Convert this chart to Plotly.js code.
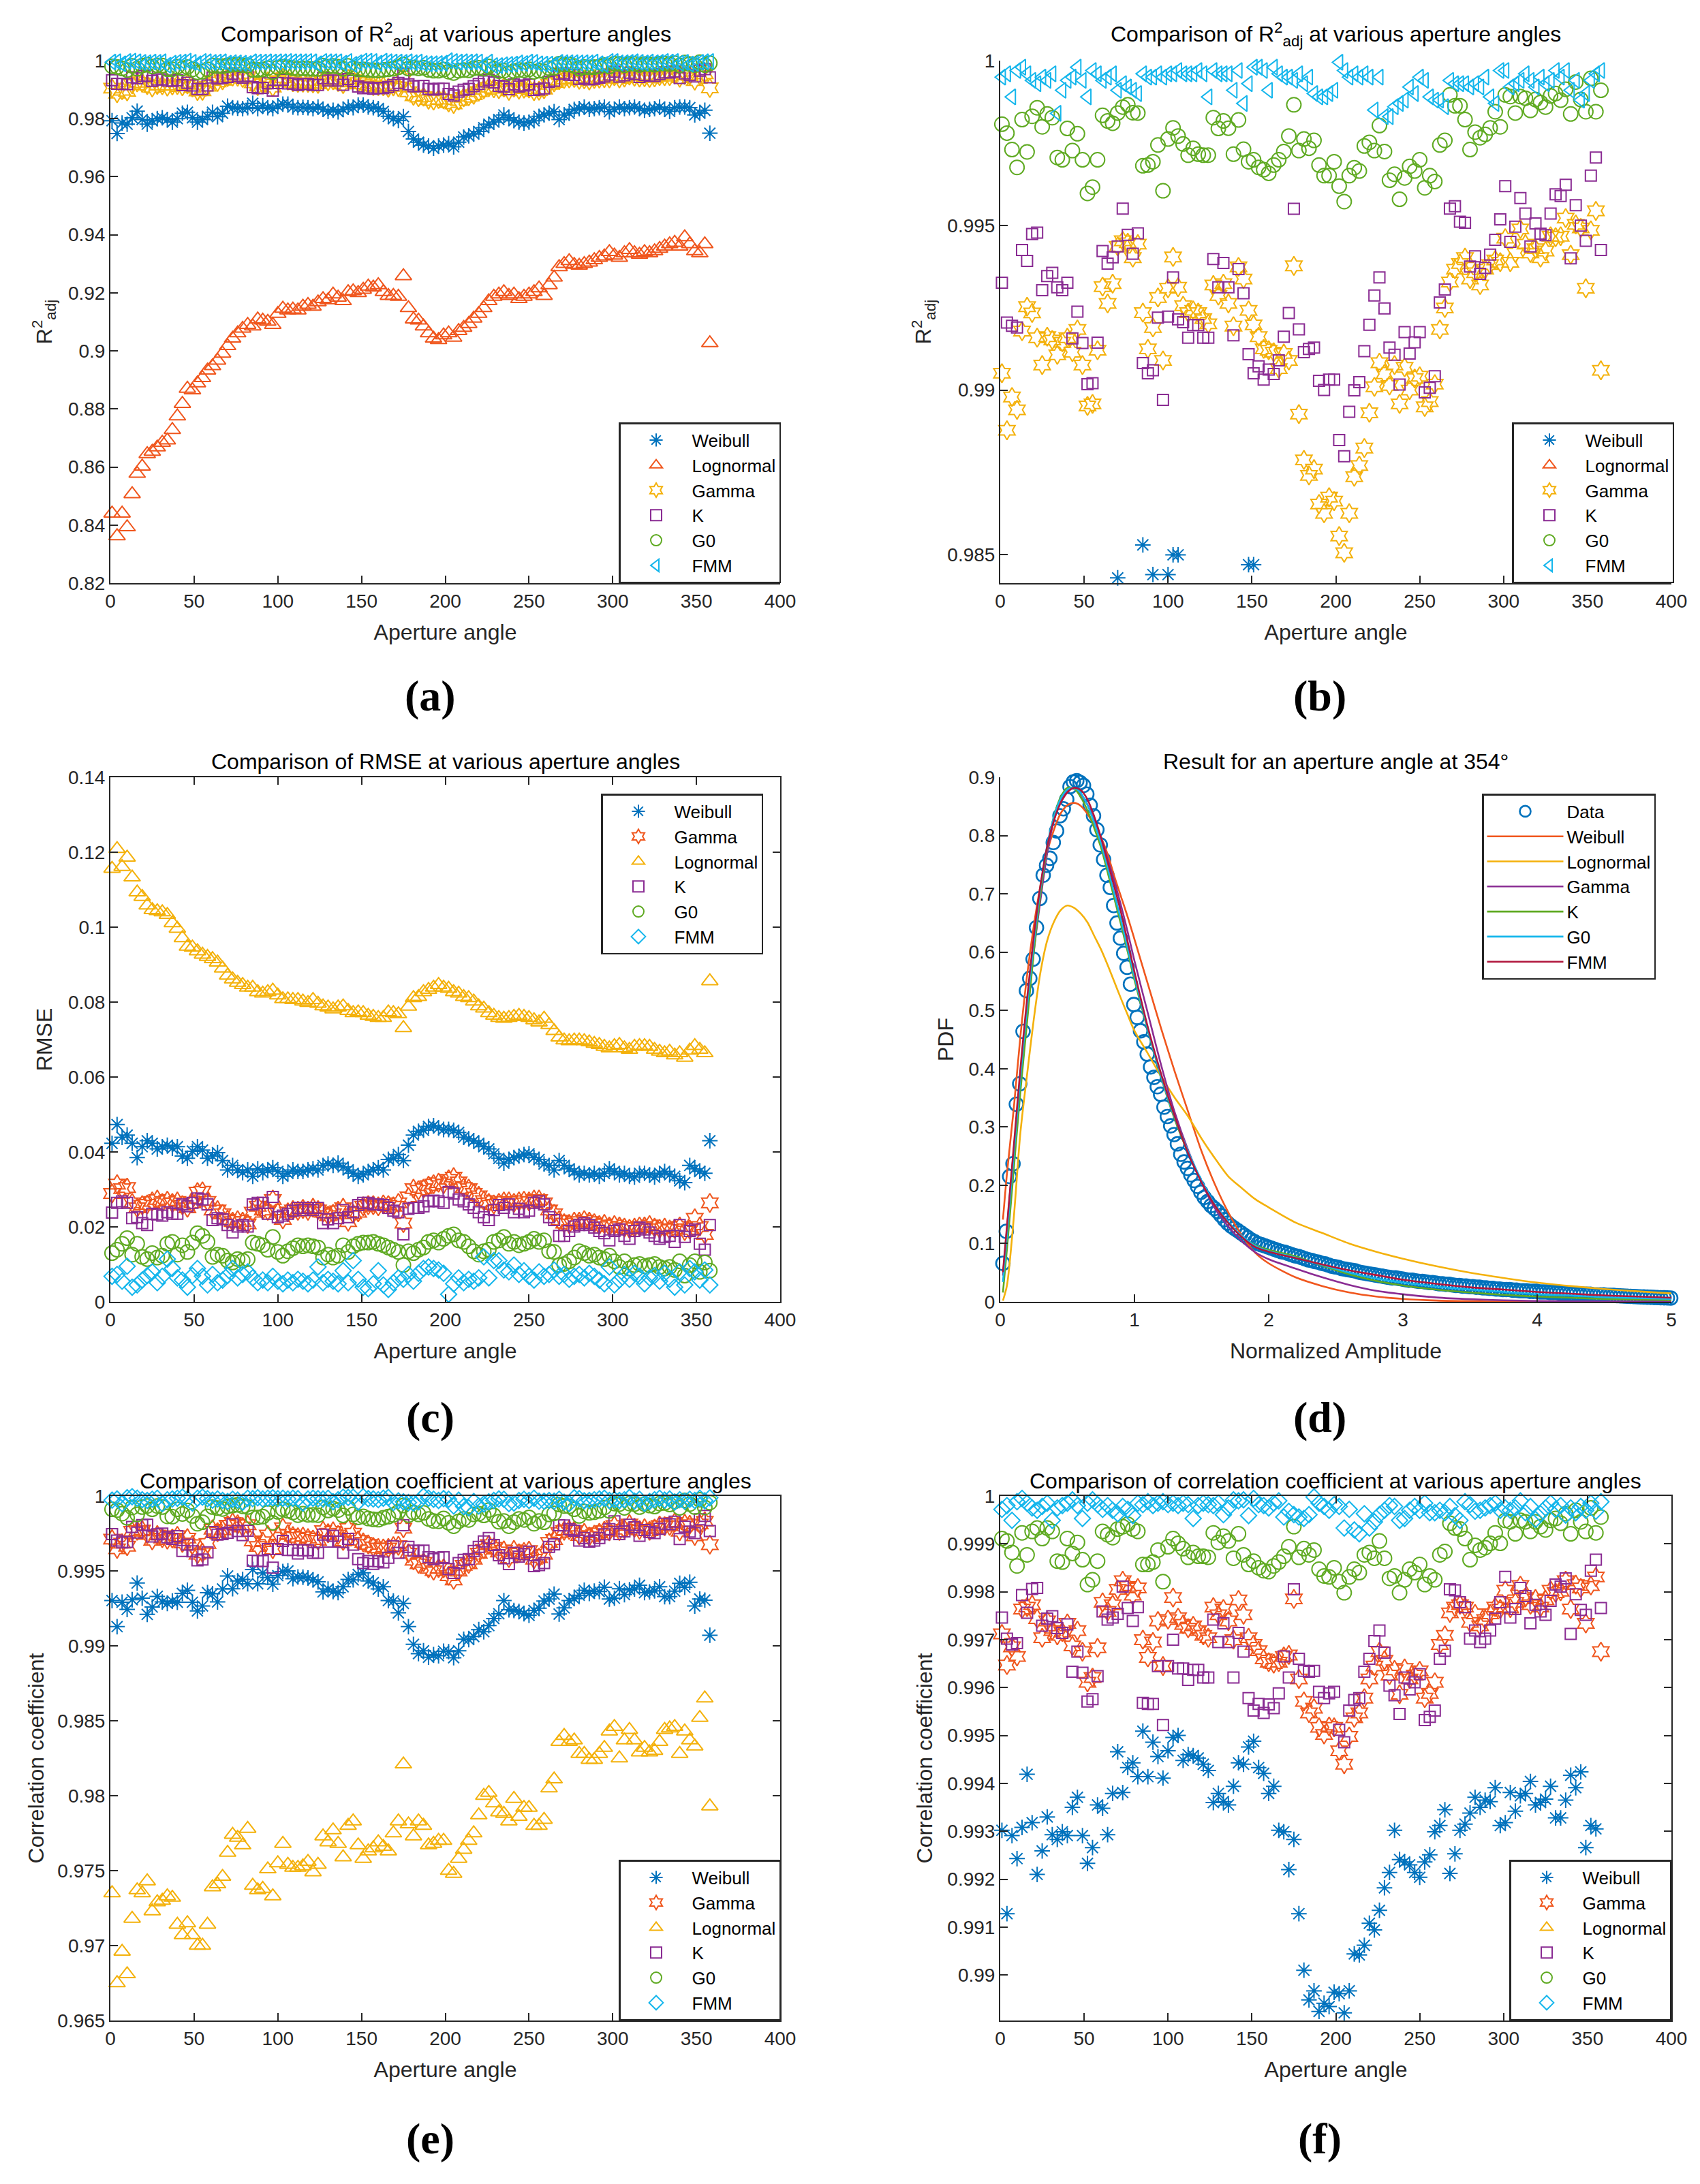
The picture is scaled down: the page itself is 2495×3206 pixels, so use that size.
<!DOCTYPE html>
<html><head><meta charset="utf-8">
<script src="https://cdn.plot.ly/plotly-3.0.1.min.js"></script>
<style>html,body{margin:0;padding:0;background:#fff;}#chart{width:2495px;height:3206px;}</style>
</head><body><div id="chart"></div>
<script>
// ---------- aperture angles (deg) ----------
const angles = [1,4,7,10,13,16,19,22,25,28,31,34,37,40,43,46,49,52,55,58,
61,64,67,70,73,76,79,82,85,88,91,94,97,100,103,106,109,112,115,118,
121,124,127,130,133,136,139,142,145,148,151,154,157,160,163,166,169,172,175,178,
181,184,187,190,193,196,199,202,205,208,211,214,217,220,223,226,229,232,235,238,
241,244,247,250,253,256,259,262,265,268,271,274,277,280,283,286,289,292,295,298,
301,304,307,310,313,316,319,322,325,328,331,334,337,340,343,346,349,352,355,358];

// ---------- adjusted R^2 ----------
const r2Weibull = [0.9793,0.9749,0.9785,0.9781,0.9803,0.9826,0.9797,0.9781,0.9793,0.9800,
0.9803,0.9797,0.9788,0.9800,0.9819,0.9822,0.9803,0.9788,0.9797,0.9808,
0.9822,0.9807,0.9819,0.9843,0.9838,0.9836,0.9835,0.9838,0.9853,0.9835,
0.9844,0.9838,0.9835,0.9844,0.9850,0.9850,0.9840,0.9838,0.9839,0.9838,
0.9835,0.9840,0.9832,0.9825,0.9829,0.9824,0.9832,0.9840,0.9838,0.9847,
0.9847,0.9840,0.9838,0.9835,0.9825,0.9808,0.9800,0.9794,0.9807,0.9756,
0.9730,0.9719,0.9709,0.9706,0.9698,0.9706,0.9709,0.9714,0.9703,0.9719,
0.9737,0.9741,0.9747,0.9756,0.9769,0.9781,0.9788,0.9797,0.9813,0.9803,
0.9793,0.9788,0.9785,0.9788,0.9793,0.9808,0.9813,0.9819,0.9824,0.9797,
0.9813,0.9819,0.9832,0.9835,0.9840,0.9832,0.9835,0.9838,0.9840,0.9824,
0.9832,0.9840,0.9835,0.9838,0.9840,0.9835,0.9829,0.9832,0.9835,0.9840,
0.9832,0.9825,0.9838,0.9840,0.9840,0.9838,0.9813,0.9819,0.9829,0.9750];
const r2Lognormal = [0.8440,0.8362,0.8440,0.8393,0.8507,0.8577,0.8602,0.8645,0.8653,0.8668,
0.8684,0.8692,0.8728,0.8775,0.8818,0.8870,0.8865,0.8889,0.8907,0.8933,
0.8948,0.8967,0.8991,0.9017,0.9043,0.9061,0.9077,0.9090,0.9085,0.9109,
0.9105,0.9101,0.9090,0.9128,0.9146,0.9140,0.9143,0.9140,0.9153,0.9159,
0.9153,0.9168,0.9179,0.9175,0.9195,0.9184,0.9172,0.9203,0.9206,0.9200,
0.9211,0.9222,0.9219,0.9227,0.9203,0.9190,0.9190,0.9187,0.9258,0.9148,
0.9109,0.9105,0.9085,0.9061,0.9043,0.9038,0.9054,0.9061,0.9046,0.9069,
0.9080,0.9093,0.9112,0.9128,0.9148,0.9172,0.9187,0.9195,0.9203,0.9190,
0.9195,0.9179,0.9187,0.9195,0.9203,0.9216,0.9190,0.9227,0.9253,0.9289,
0.9300,0.9310,0.9297,0.9294,0.9300,0.9305,0.9313,0.9321,0.9326,0.9341,
0.9329,0.9321,0.9337,0.9348,0.9337,0.9332,0.9341,0.9337,0.9344,0.9352,
0.9360,0.9368,0.9373,0.9360,0.9392,0.9368,0.9344,0.9337,0.9368,0.9027];
const r2Gamma = [0.99051,0.98878,0.98979,0.98940,0.99179,0.99253,0.99234,0.99159,0.99076,0.99162,
0.99152,0.99107,0.99145,0.99159,0.99115,0.99184,0.99076,0.98952,0.98958,0.99121,
0.99314,0.99263,0.99323,0.99436,0.99453,0.99447,0.99402,0.99443,0.99235,0.99125,
0.99190,0.99281,0.99090,0.99309,0.99404,0.99312,0.99256,0.99235,0.99242,0.99235,
0.99217,0.99201,0.99319,0.99287,0.99323,0.99263,0.99194,0.99374,0.99337,0.99242,
0.99198,0.99162,0.99125,0.99121,0.99115,0.99065,0.99111,0.99090,0.99377,0.98927,
0.98788,0.98741,0.98760,0.98654,0.98626,0.98675,0.98663,0.98557,0.98506,0.98626,
0.98737,0.98771,0.98824,0.98931,0.99010,0.99083,0.99049,0.99014,0.99076,0.98958,
0.99069,0.99000,0.99035,0.99042,0.98949,0.98965,0.99018,0.99184,0.99249,0.99328,
0.99367,0.99384,0.99402,0.99337,0.99356,0.99319,0.99367,0.99381,0.99395,0.99388,
0.99461,0.99388,0.99416,0.99489,0.99443,0.99416,0.99429,0.99402,0.99422,0.99467,
0.99464,0.99467,0.99522,0.99411,0.99503,0.99492,0.99309,0.99485,0.99544,0.99060];
const r2K = [0.99326,0.99205,0.99195,0.99190,0.99425,0.99392,0.99474,0.99478,0.99303,0.99346,
0.99356,0.99312,0.99303,0.99326,0.99157,0.99238,0.99143,0.99018,0.99021,0.99144,
0.99422,0.99384,0.99403,0.99436,0.99551,0.99471,0.99414,0.99476,0.99082,0.99051,
0.99060,0.99220,0.98970,0.99223,0.99342,0.99215,0.99206,0.99159,0.99197,0.99197,
0.99159,0.99159,0.99398,0.99312,0.99386,0.99312,0.99166,0.99367,0.99294,0.99109,
0.99051,0.99072,0.99032,0.99062,0.99049,0.99090,0.99162,0.99234,0.99550,0.99184,
0.99115,0.99125,0.99129,0.99028,0.99000,0.99032,0.99032,0.98848,0.98799,0.98934,
0.98999,0.99024,0.99118,0.99198,0.99287,0.99342,0.99248,0.99129,0.99107,0.99017,
0.99176,0.99111,0.99145,0.99176,0.98993,0.99007,0.99042,0.99266,0.99305,0.99551,
0.99558,0.99511,0.99508,0.99375,0.99406,0.99353,0.99371,0.99411,0.99456,0.99518,
0.99619,0.99450,0.99496,0.99583,0.99536,0.99436,0.99506,0.99475,0.99470,0.99536,
0.99594,0.99589,0.99623,0.99400,0.99561,0.99499,0.99453,0.99651,0.99706,0.99425];
const r2G0 = [0.99807,0.99780,0.99730,0.99676,0.99821,0.99723,0.99831,0.99857,0.99799,0.99838,
0.99827,0.99706,0.99699,0.99794,0.99727,0.99778,0.99699,0.99597,0.99616,0.99699,
0.99834,0.99817,0.99810,0.99841,0.99859,0.99866,0.99842,0.99841,0.99681,0.99683,
0.99693,0.99744,0.99605,0.99762,0.99796,0.99771,0.99747,0.99713,0.99734,0.99716,
0.99713,0.99713,0.99827,0.99794,0.99817,0.99795,0.99716,0.99820,0.99731,0.99693,
0.99699,0.99676,0.99669,0.99658,0.99683,0.99699,0.99724,0.99771,0.99866,0.99727,
0.99762,0.99734,0.99758,0.99683,0.99651,0.99651,0.99693,0.99619,0.99572,0.99651,
0.99675,0.99665,0.99741,0.99752,0.99727,0.99803,0.99724,0.99637,0.99655,0.99579,
0.99644,0.99679,0.99665,0.99699,0.99614,0.99651,0.99633,0.99744,0.99758,0.99896,
0.99863,0.99863,0.99821,0.99730,0.99783,0.99766,0.99776,0.99796,0.99845,0.99799,
0.99896,0.99891,0.99841,0.99891,0.99886,0.99849,0.99882,0.99873,0.99859,0.99893,
0.99900,0.99880,0.99913,0.99838,0.99935,0.99882,0.99845,0.99946,0.99845,0.99910];
const r2FMM = [0.9995,0.9996,0.9989,0.9997,0.9998,0.9996,0.9994,0.9993,0.9995,0.9994,
0.9996,0.9984,0.9991,0.9994,0.9995,0.9998,0.9994,0.9989,0.9997,0.9996,
0.9994,0.9995,0.9996,0.9991,0.9993,0.9992,0.9991,0.9990,0.9996,0.9995,
0.9995,0.9996,0.9995,0.9996,0.9996,0.9997,0.9996,0.9996,0.9996,0.9997,
0.9996,0.9989,0.9997,0.9996,0.9996,0.9996,0.9991,0.9997,0.9987,0.9993,
0.9998,0.9998,0.9997,0.9991,0.9998,0.9996,0.9995,0.9995,0.9994,0.9996,
0.9993,0.9995,0.9990,0.9989,0.9989,0.9990,0.9991,0.99995,0.9997,0.9995,
0.9996,0.9995,0.9996,0.9995,0.9985,0.9995,0.9983,0.9983,0.9986,0.9987,
0.9988,0.9992,0.9990,0.9995,0.9994,0.9989,0.9988,0.9988,0.9986,0.9994,
0.9993,0.9993,0.9993,0.9992,0.9993,0.9992,0.9995,0.9989,0.9987,0.9997,
0.9997,0.9992,0.9993,0.9994,0.9996,0.9994,0.9992,0.9995,0.9993,0.9994,
0.9997,0.9995,0.9997,0.9991,0.9994,0.9988,0.9990,0.9994,0.9996,0.9997];

// ---------- RMSE ----------
const rmseWeibull = [0.0423,0.0473,0.0439,0.0445,0.0423,0.0385,0.0414,0.0430,0.0423,0.0408,
0.0414,0.0418,0.0410,0.0414,0.0389,0.0383,0.0402,0.0414,0.0405,0.0383,
0.0389,0.0398,0.0377,0.0352,0.0364,0.0352,0.0345,0.0352,0.0335,0.0355,
0.0345,0.0352,0.0358,0.0348,0.0335,0.0343,0.0352,0.0348,0.0348,0.0352,
0.0355,0.0352,0.0364,0.0368,0.0364,0.0370,0.0360,0.0352,0.0343,0.0335,
0.0339,0.0348,0.0352,0.0358,0.0352,0.0380,0.0383,0.0393,0.0377,0.0418,
0.0445,0.0455,0.0458,0.0468,0.0470,0.0464,0.0460,0.0460,0.0458,0.0452,
0.0439,0.0435,0.0430,0.0423,0.0414,0.0408,0.0395,0.0383,0.0370,0.0380,
0.0385,0.0389,0.0393,0.0395,0.0385,0.0380,0.0368,0.0364,0.0352,0.0377,
0.0364,0.0355,0.0348,0.0339,0.0343,0.0339,0.0343,0.0335,0.0343,0.0355,
0.0348,0.0339,0.0343,0.0335,0.0333,0.0343,0.0343,0.0339,0.0333,0.0343,
0.0348,0.0339,0.0335,0.0323,0.0318,0.0364,0.0355,0.0348,0.0343,0.0430];
const rmseGamma = [0.0289,0.0314,0.0302,0.0305,0.0264,0.0251,0.0258,0.0260,0.0268,0.0273,
0.0264,0.0270,0.0264,0.0268,0.0258,0.0251,0.0264,0.0293,0.0295,0.0268,
0.0245,0.0245,0.0235,0.0220,0.0214,0.0218,0.0214,0.0208,0.0239,0.0255,
0.0245,0.0243,0.0273,0.0239,0.0220,0.0239,0.0245,0.0243,0.0248,0.0243,
0.0251,0.0245,0.0239,0.0230,0.0235,0.0243,0.0251,0.0214,0.0235,0.0239,
0.0255,0.0258,0.0258,0.0255,0.0260,0.0258,0.0255,0.0264,0.0210,0.0280,
0.0302,0.0298,0.0302,0.0310,0.0314,0.0318,0.0314,0.0327,0.0333,0.0320,
0.0305,0.0302,0.0289,0.0283,0.0270,0.0264,0.0260,0.0264,0.0268,0.0268,
0.0264,0.0268,0.0270,0.0268,0.0273,0.0273,0.0264,0.0245,0.0235,0.0218,
0.0210,0.0208,0.0214,0.0214,0.0218,0.0214,0.0210,0.0205,0.0208,0.0201,
0.0205,0.0201,0.0198,0.0195,0.0198,0.0201,0.0201,0.0205,0.0198,0.0195,
0.0198,0.0193,0.0195,0.0201,0.0189,0.0193,0.0223,0.0201,0.0180,0.0264];
const rmseLognormal = [0.1156,0.1209,0.1161,0.1186,0.1133,0.1093,0.1081,0.1058,0.1046,0.1043,
0.1040,0.1033,0.1011,0.0996,0.0971,0.0948,0.0946,0.0936,0.0927,0.0921,
0.0915,0.0906,0.0890,0.0871,0.0861,0.0852,0.0846,0.0839,0.0839,0.0827,
0.0823,0.0827,0.0831,0.0818,0.0808,0.0808,0.0806,0.0806,0.0802,0.0798,
0.0806,0.0796,0.0789,0.0786,0.0781,0.0786,0.0789,0.0777,0.0771,0.0773,
0.0771,0.0764,0.0761,0.0758,0.0758,0.0773,0.0771,0.0768,0.0731,0.0788,
0.0811,0.0814,0.0827,0.0833,0.0839,0.0846,0.0839,0.0836,0.0827,0.0823,
0.0814,0.0811,0.0802,0.0789,0.0783,0.0771,0.0764,0.0758,0.0756,0.0758,
0.0761,0.0764,0.0761,0.0758,0.0752,0.0746,0.0756,0.0739,0.0723,0.0706,
0.0698,0.0696,0.0698,0.0698,0.0696,0.0693,0.0689,0.0686,0.0681,0.0677,
0.0683,0.0686,0.0677,0.0673,0.0681,0.0683,0.0683,0.0681,0.0673,0.0668,
0.0664,0.0668,0.0658,0.0664,0.0652,0.0671,0.0683,0.0673,0.0664,0.0856];
const rmseK = [0.0238,0.0264,0.0268,0.0264,0.0223,0.0226,0.0210,0.0205,0.0235,0.0233,
0.0230,0.0239,0.0235,0.0235,0.0260,0.0255,0.0264,0.0276,0.0273,0.0260,
0.0218,0.0223,0.0220,0.0205,0.0185,0.0201,0.0205,0.0201,0.0260,0.0264,
0.0264,0.0235,0.0280,0.0226,0.0230,0.0235,0.0243,0.0251,0.0245,0.0251,
0.0245,0.0251,0.0210,0.0220,0.0210,0.0223,0.0245,0.0226,0.0239,0.0258,
0.0264,0.0264,0.0260,0.0260,0.0258,0.0251,0.0243,0.0239,0.0180,0.0248,
0.0251,0.0251,0.0255,0.0268,0.0270,0.0268,0.0264,0.0293,0.0289,0.0273,
0.0268,0.0260,0.0251,0.0239,0.0226,0.0218,0.0245,0.0258,0.0251,0.0260,
0.0239,0.0248,0.0239,0.0243,0.0264,0.0268,0.0260,0.0226,0.0218,0.0176,
0.0176,0.0189,0.0201,0.0205,0.0210,0.0205,0.0198,0.0189,0.0183,0.0164,
0.0189,0.0193,0.0176,0.0168,0.0189,0.0198,0.0193,0.0185,0.0176,0.0168,
0.0173,0.0176,0.0160,0.0205,0.0173,0.0189,0.0193,0.0155,0.0139,0.0205];
const rmseG0 = [0.0130,0.0139,0.0155,0.0170,0.0126,0.0155,0.0120,0.0114,0.0130,0.0118,
0.0123,0.0155,0.0160,0.0126,0.0151,0.0133,0.0158,0.0183,0.0176,0.0160,
0.0120,0.0126,0.0123,0.0110,0.0105,0.0114,0.0110,0.0114,0.0158,0.0155,
0.0151,0.0139,0.0173,0.0133,0.0123,0.0135,0.0143,0.0151,0.0148,0.0151,
0.0148,0.0145,0.0118,0.0126,0.0118,0.0123,0.0151,0.0133,0.0148,0.0155,
0.0158,0.0158,0.0160,0.0155,0.0151,0.0145,0.0139,0.0133,0.0098,0.0135,
0.0130,0.0139,0.0145,0.0160,0.0164,0.0158,0.0168,0.0176,0.0180,0.0164,
0.0160,0.0148,0.0135,0.0126,0.0135,0.0139,0.0160,0.0164,0.0173,0.0155,
0.0160,0.0151,0.0155,0.0160,0.0168,0.0160,0.0164,0.0135,0.0133,0.0098,
0.0101,0.0108,0.0118,0.0135,0.0130,0.0123,0.0126,0.0118,0.0114,0.0123,
0.0108,0.0093,0.0108,0.0089,0.0098,0.0101,0.0095,0.0098,0.0101,0.0093,
0.0089,0.0093,0.0085,0.0108,0.0070,0.0098,0.0108,0.0080,0.0105,0.0083];
const rmseFMM = [0.0068,0.0073,0.0055,0.0095,0.0039,0.0045,0.0058,0.0070,0.0080,0.0051,
0.0068,0.0114,0.0089,0.0064,0.0058,0.0039,0.0070,0.0089,0.0068,0.0045,
0.0073,0.0051,0.0058,0.0070,0.0089,0.0064,0.0073,0.0080,0.0064,0.0051,
0.0058,0.0051,0.0068,0.0055,0.0048,0.0058,0.0051,0.0060,0.0055,0.0048,
0.0058,0.0093,0.0051,0.0060,0.0055,0.0048,0.0083,0.0051,0.0110,0.0060,
0.0039,0.0035,0.0048,0.0083,0.0045,0.0033,0.0051,0.0064,0.0060,0.0073,
0.0055,0.0076,0.0089,0.0093,0.0089,0.0085,0.0076,0.0020,0.0048,0.0064,
0.0051,0.0060,0.0055,0.0064,0.0120,0.0064,0.0110,0.0110,0.0085,0.0080,
0.0098,0.0073,0.0083,0.0068,0.0058,0.0080,0.0068,0.0073,0.0085,0.0068,
0.0073,0.0060,0.0068,0.0073,0.0064,0.0076,0.0068,0.0058,0.0048,0.0093,
0.0045,0.0058,0.0073,0.0060,0.0076,0.0068,0.0048,0.0064,0.0070,0.0055,
0.0076,0.0060,0.0039,0.0080,0.0045,0.0089,0.0080,0.0058,0.0085,0.0045];

// ---------- correlation coefficient ----------
const corrWeibull = [0.99302,0.99128,0.99291,0.99243,0.99308,0.99419,0.99318,0.99210,0.99259,0.99330,
0.99293,0.99283,0.99299,0.99291,0.99350,0.99371,0.99291,0.99233,0.99266,0.99355,
0.99348,0.99293,0.99379,0.99466,0.99381,0.99433,0.99443,0.99414,0.99509,0.99414,
0.99486,0.99456,0.99411,0.99468,0.99496,0.99500,0.99448,0.99460,0.99458,0.99453,
0.99440,0.99427,0.99360,0.99379,0.99362,0.99355,0.99394,0.99443,0.99440,0.99476,
0.99488,0.99433,0.99421,0.99379,0.99394,0.99302,0.99299,0.99220,0.99283,0.99128,
0.99010,0.98948,0.98967,0.98924,0.98941,0.98934,0.98964,0.98961,0.98921,0.98967,
0.99044,0.99042,0.99062,0.99108,0.99094,0.99135,0.99182,0.99214,0.99302,0.99241,
0.99236,0.99230,0.99214,0.99204,0.99236,0.99251,0.99299,0.99312,0.99345,0.99212,
0.99253,0.99302,0.99315,0.99338,0.99371,0.99350,0.99365,0.99362,0.99391,0.99312,
0.99318,0.99381,0.99342,0.99374,0.99379,0.99404,0.99355,0.99360,0.99367,0.99394,
0.99328,0.99328,0.99365,0.99417,0.99391,0.99424,0.99266,0.99312,0.99305,0.99071];
const corrGamma = [0.99712,0.99647,0.99685,0.99665,0.99764,0.99768,0.99773,0.99744,0.99704,0.99739,
0.99719,0.99709,0.99716,0.99734,0.99687,0.99719,0.99675,0.99611,0.99621,0.99683,
0.99778,0.99759,0.99773,0.99805,0.99823,0.99811,0.99793,0.99808,0.99700,0.99663,
0.99695,0.99739,0.99645,0.99742,0.99788,0.99746,0.99732,0.99724,0.99729,0.99719,
0.99709,0.99704,0.99768,0.99752,0.99764,0.99739,0.99700,0.99783,0.99752,0.99704,
0.99690,0.99677,0.99660,0.99653,0.99650,0.99653,0.99665,0.99668,0.99785,0.99618,
0.99571,0.99547,0.99557,0.99517,0.99502,0.99519,0.99517,0.99468,0.99440,0.99498,
0.99537,0.99547,0.99578,0.99618,0.99645,0.99675,0.99657,0.99626,0.99637,0.99586,
0.99640,0.99618,0.99626,0.99635,0.99578,0.99588,0.99611,0.99690,0.99709,0.99756,
0.99768,0.99773,0.99768,0.99736,0.99754,0.99729,0.99742,0.99754,0.99768,0.99764,
0.99803,0.99766,0.99778,0.99813,0.99788,0.99773,0.99785,0.99768,0.99783,0.99803,
0.99798,0.99801,0.99823,0.99764,0.99815,0.99808,0.99734,0.99813,0.99831,0.99675];
const corrLognormal = [0.9735,0.9675,0.9696,0.9681,0.9718,0.9737,0.9735,0.9743,0.9723,0.9729,
0.9730,0.9733,0.9732,0.9714,0.9707,0.9715,0.9707,0.9700,0.9700,0.9714,
0.9739,0.9741,0.9746,0.9762,0.9774,0.9772,0.9767,0.9778,0.9740,0.9737,
0.9738,0.9751,0.9733,0.9755,0.9768,0.9754,0.9752,0.9752,0.9753,0.9756,
0.9749,0.9754,0.9773,0.9769,0.9777,0.9768,0.9759,0.9780,0.9783,0.9767,
0.9758,0.9763,0.9765,0.9769,0.9766,0.9763,0.9775,0.9783,0.9821,0.9781,
0.9773,0.9783,0.9780,0.9767,0.9768,0.9770,0.9770,0.9750,0.9748,0.9758,
0.9764,0.9770,0.9775,0.9787,0.9800,0.9802,0.9795,0.9789,0.9788,0.9783,
0.9798,0.9786,0.9792,0.9792,0.9780,0.9780,0.9784,0.9805,0.9811,0.9836,
0.9840,0.9836,0.9837,0.9828,0.9828,0.9824,0.9824,0.9828,0.9832,0.9843,
0.9846,0.9825,0.9837,0.9844,0.9837,0.9829,0.9832,0.9829,0.9830,0.9836,
0.9844,0.9845,0.9846,0.9828,0.9843,0.9837,0.9833,0.9852,0.9865,0.9793];
const corrK = [0.99746,0.99702,0.99690,0.99693,0.99793,0.99756,0.99806,0.99808,0.99729,0.99744,
0.99749,0.99724,0.99714,0.99732,0.99633,0.99675,0.99631,0.99571,0.99576,0.99624,
0.99759,0.99742,0.99746,0.99754,0.99811,0.99766,0.99739,0.99768,0.99568,0.99566,
0.99566,0.99645,0.99522,0.99645,0.99700,0.99640,0.99640,0.99616,0.99637,0.99637,
0.99621,0.99621,0.99742,0.99695,0.99734,0.99695,0.99621,0.99714,0.99675,0.99578,
0.99552,0.99566,0.99547,0.99565,0.99557,0.99588,0.99665,0.99621,0.99805,0.99660,
0.99635,0.99633,0.99635,0.99591,0.99578,0.99588,0.99591,0.99512,0.99486,0.99552,
0.99574,0.99578,0.99633,0.99660,0.99697,0.99719,0.99673,0.99604,0.99584,0.99545,
0.99621,0.99596,0.99611,0.99628,0.99532,0.99539,0.99552,0.99660,0.99677,0.99805,
0.99803,0.99778,0.99768,0.99702,0.99719,0.99695,0.99702,0.99719,0.99744,0.99778,
0.99831,0.99746,0.99764,0.99808,0.99791,0.99734,0.99773,0.99759,0.99752,0.99781,
0.99815,0.99811,0.99828,0.99712,0.99795,0.99762,0.99752,0.99844,0.99867,0.99766];
const corrG0 = [0.99911,0.99906,0.99882,0.99854,0.99923,0.99877,0.99926,0.99933,0.99911,0.99933,
0.99926,0.99864,0.99862,0.99911,0.99880,0.99903,0.99867,0.99815,0.99825,0.99864,
0.99926,0.99919,0.99913,0.99931,0.99936,0.99941,0.99931,0.99926,0.99857,0.99857,
0.99862,0.99887,0.99821,0.99894,0.99911,0.99901,0.99890,0.99872,0.99882,0.99874,
0.99874,0.99872,0.99923,0.99903,0.99916,0.99906,0.99870,0.99921,0.99877,0.99857,
0.99864,0.99850,0.99844,0.99842,0.99854,0.99862,0.99874,0.99894,0.99936,0.99872,
0.99890,0.99877,0.99887,0.99847,0.99833,0.99831,0.99850,0.99821,0.99798,0.99831,
0.99847,0.99840,0.99877,0.99882,0.99870,0.99906,0.99870,0.99828,0.99833,0.99798,
0.99825,0.99847,0.99840,0.99857,0.99815,0.99833,0.99825,0.99877,0.99884,0.99943,
0.99933,0.99931,0.99911,0.99867,0.99897,0.99887,0.99892,0.99901,0.99923,0.99901,
0.99949,0.99946,0.99921,0.99949,0.99946,0.99926,0.99946,0.99936,0.99929,0.99949,
0.99953,0.99943,0.99963,0.99921,0.99970,0.99946,0.99926,0.99975,0.99923,0.99956];
const corrFMM = [0.99972,0.99980,0.99949,0.99988,0.99995,0.99985,0.99975,0.99970,0.99978,0.99985,
0.99949,0.99975,0.99980,0.99985,0.99992,0.99980,0.99953,0.99985,0.99992,0.99982,
0.99972,0.99980,0.99970,0.99963,0.99978,0.99972,0.99959,0.99985,0.99982,0.99988,
0.99980,0.99985,0.99988,0.99982,0.99985,0.99980,0.99985,0.99982,0.99953,0.99980,
0.99985,0.99982,0.99980,0.99985,0.99961,0.99975,0.99992,0.99990,0.99992,0.99959,
0.99995,0.99982,0.99980,0.99975,0.99985,0.99990,0.99956,0.99968,0.99961,0.99956,
0.99953,0.99961,0.99998,0.99985,0.99978,0.99970,0.99982,0.99978,0.99933,0.99972,
0.99929,0.99921,0.99963,0.99933,0.99946,0.99961,0.99970,0.99980,0.99978,0.99949,
0.99953,0.99970,0.99978,0.99970,0.99985,0.99965,0.99965,0.99970,0.99965,0.99978,
0.99959,0.99949,0.99988,0.99982,0.99968,0.99970,0.99975,0.99980,0.99985,0.99970,
0.99975,0.99970,0.99975,0.99990,0.99965,0.99978,0.99951,0.99963,0.99975,0.99985,
0.99972,0.99980,0.99960,0.99975,0.99965,0.99978,0.99970,0.99985,0.99968,0.99988];

// ---------- PDF at 354 deg ----------
const ampData = [0.02,0.045,0.07,0.095,0.12,0.145,0.17,0.195,0.22,0.245,
0.27,0.295,0.32,0.345,0.37,0.395,0.42,0.445,0.47,0.495,
0.52,0.545,0.57,0.595,0.62,0.645,0.67,0.695,0.72,0.745,
0.77,0.795,0.82,0.845,0.87,0.895,0.92,0.945,0.97,0.995,
1.02,1.045,1.07,1.095,1.12,1.145,1.17,1.195,1.22,1.245,
1.27,1.295,1.32,1.345,1.37,1.395,1.42,1.445,1.47,1.495,
1.52,1.545,1.57,1.595,1.62,1.645,1.67,1.695,1.72,1.745,
1.77,1.795,1.82,1.845,1.87,1.895,1.92,1.945,1.97,1.995,
2.02,2.045,2.07,2.095,2.12,2.145,2.17,2.195,2.22,2.245,
2.27,2.295,2.32,2.345,2.37,2.395,2.42,2.445,2.47,2.495,
2.52,2.545,2.57,2.595,2.62,2.645,2.67,2.695,2.72,2.745,
2.77,2.795,2.82,2.845,2.87,2.895,2.92,2.945,2.97,2.995,
3.02,3.045,3.07,3.095,3.12,3.145,3.17,3.195,3.22,3.245,
3.27,3.295,3.32,3.345,3.37,3.395,3.42,3.445,3.47,3.495,
3.52,3.545,3.57,3.595,3.62,3.645,3.67,3.695,3.72,3.745,
3.77,3.795,3.82,3.845,3.87,3.895,3.92,3.945,3.97,3.995,
4.02,4.045,4.07,4.095,4.12,4.145,4.17,4.195,4.22,4.245,
4.27,4.295,4.32,4.345,4.37,4.395,4.42,4.445,4.47,4.495,
4.52,4.545,4.57,4.595,4.62,4.645,4.67,4.695,4.72,4.745,
4.77,4.795,4.82,4.845,4.87,4.895,4.92,4.945,4.97,4.995];
const pdfData = [0.066,0.121,0.215,0.237,0.339,0.374,0.464,0.534,0.555,0.588,
0.642,0.692,0.732,0.749,0.761,0.788,0.808,0.834,0.846,0.862,
0.884,0.892,0.894,0.891,0.886,0.871,0.852,0.834,0.81,0.784,
0.759,0.732,0.711,0.68,0.65,0.624,0.598,0.574,0.545,0.51,
0.488,0.465,0.446,0.425,0.403,0.385,0.369,0.356,0.334,0.318,
0.302,0.287,0.271,0.253,0.24,0.229,0.218,0.208,0.198,0.188,
0.179,0.172,0.165,0.16,0.155,0.148,0.141,0.135,0.13,0.126,
0.122,0.118,0.114,0.11,0.106,0.103,0.1,0.098,0.096,0.094,
0.092,0.09,0.088,0.086,0.085,0.083,0.081,0.079,0.078,0.076,
0.074,0.072,0.071,0.069,0.068,0.066,0.065,0.063,0.061,0.06,
0.059,0.057,0.056,0.055,0.054,0.053,0.051,0.05,0.049,0.048,
0.047,0.046,0.045,0.044,0.043,0.042,0.041,0.041,0.04,0.039,
0.038,0.037,0.037,0.036,0.035,0.035,0.034,0.033,0.033,0.032,
0.031,0.031,0.03,0.03,0.029,0.028,0.028,0.027,0.027,0.026,
0.026,0.025,0.025,0.024,0.024,0.023,0.023,0.022,0.022,0.021,
0.021,0.021,0.02,0.02,0.019,0.019,0.019,0.018,0.018,0.018,
0.017,0.017,0.017,0.016,0.016,0.016,0.015,0.015,0.015,0.014,
0.014,0.014,0.013,0.013,0.013,0.013,0.012,0.012,0.012,0.012,
0.011,0.011,0.011,0.0105,0.0102,0.0099,0.0096,0.0093,0.009,0.0088,
0.0085,0.0083,0.008,0.0078,0.0075,0.0073,0.0071,0.0069,0.0067,0.0065];
const ampFit = [0.02,0.05,0.1,0.15,0.2,0.25,0.3,0.35,0.4,0.45,0.5,0.55,0.6,0.65,0.7,0.75,0.8,0.85,0.9,0.95,
1.0,1.1,1.2,1.3,1.4,1.5,1.6,1.7,1.8,1.9,2.0,2.2,2.4,2.6,2.8,3.0,3.25,3.5,3.75,4.0,4.25,4.5,4.75,5.0];
const fitWeibull = [0.141,0.22,0.33,0.455,0.56,0.645,0.715,0.772,0.81,0.838,0.852,0.856,0.851,0.837,0.818,0.797,0.768,0.73,0.695,0.66,
0.622,0.545,0.468,0.395,0.326,0.258,0.201,0.153,0.114,0.084,0.066,0.042,0.027,0.016,0.009,0.005,0.0022,0.001,0.0004,0.0002,0.0001,0.00005,0.00002,0.00001];
const fitLognormal = [0.002,0.028,0.142,0.29,0.39,0.485,0.566,0.62,0.652,0.672,0.68,0.676,0.666,0.651,0.628,0.605,0.578,0.549,0.52,0.492,
0.465,0.426,0.386,0.35,0.318,0.28,0.246,0.215,0.195,0.176,0.162,0.136,0.118,0.1,0.086,0.074,0.061,0.05,0.041,0.033,0.027,0.022,0.018,0.0145];
const fitGamma = [0.045,0.125,0.26,0.375,0.49,0.6,0.69,0.77,0.826,0.86,0.877,0.881,0.871,0.853,0.826,0.797,0.76,0.722,0.68,0.634,
0.585,0.495,0.405,0.325,0.26,0.205,0.16,0.129,0.104,0.085,0.073,0.057,0.042,0.029,0.019,0.013,0.0075,0.0045,0.0026,0.0015,0.0009,0.0005,0.0003,0.0002];
const fitK = [0.016,0.09,0.225,0.36,0.48,0.6,0.7,0.78,0.833,0.866,0.882,0.881,0.866,0.843,0.813,0.78,0.737,0.692,0.647,0.6,
0.552,0.466,0.384,0.313,0.256,0.206,0.165,0.135,0.112,0.097,0.089,0.078,0.062,0.047,0.036,0.028,0.021,0.016,0.012,0.009,0.007,0.005,0.004,0.003];
const fitG0 = [0.034,0.115,0.25,0.385,0.505,0.615,0.71,0.783,0.832,0.863,0.879,0.882,0.873,0.852,0.822,0.787,0.745,0.7,0.655,0.606,
0.558,0.468,0.386,0.316,0.258,0.208,0.167,0.137,0.113,0.096,0.087,0.076,0.063,0.05,0.04,0.033,0.026,0.021,0.017,0.013,0.011,0.008,0.0065,0.005];
const fitFMM = [0.051,0.13,0.265,0.4,0.52,0.627,0.715,0.782,0.826,0.856,0.874,0.882,0.878,0.862,0.833,0.797,0.755,0.712,0.668,0.617,
0.566,0.471,0.39,0.318,0.255,0.205,0.165,0.135,0.111,0.094,0.086,0.075,0.064,0.054,0.046,0.038,0.031,0.025,0.021,0.017,0.014,0.011,0.009,0.007];

// ---------- tick labels ----------
const angleTicks = [0,50,100,150,200,250,300,350,400];
const angleTickText = ['0','50','100','150','200','250','300','350','400'];
const r2aTicks = [0.82,0.84,0.86,0.88,0.9,0.92,0.94,0.96,0.98,1];
const r2aTickText = ['0.82','0.84','0.86','0.88','0.9','0.92','0.94','0.96','0.98','1'];
const r2bTicks = [0.985,0.99,0.995,1];
const r2bTickText = ['0.985','0.99','0.995','1'];
const rmseTicks = [0,0.02,0.04,0.06,0.08,0.1,0.12,0.14];
const rmseTickText = ['0','0.02','0.04','0.06','0.08','0.1','0.12','0.14'];
const ampTicks = [0,1,2,3,4,5];
const ampTickText = ['0','1','2','3','4','5'];
const pdfTicks = [0,0.1,0.2,0.3,0.4,0.5,0.6,0.7,0.8,0.9];
const pdfTickText = ['0','0.1','0.2','0.3','0.4','0.5','0.6','0.7','0.8','0.9'];
const corrETicks = [0.965,0.97,0.975,0.98,0.985,0.99,0.995,1];
const corrETickText = ['0.965','0.97','0.975','0.98','0.985','0.99','0.995','1'];
const corrFTicks = [0.99,0.991,0.992,0.993,0.994,0.995,0.996,0.997,0.998,0.999,1];
const corrFTickText = ['0.99','0.991','0.992','0.993','0.994','0.995','0.996','0.997','0.998','0.999','1'];

// ---------- styling ----------
const FONT = "'Liberation Sans', Arial, Helvetica, sans-serif";
const AX = '#262626';
const COL = {blue:'#0072BD', orange:'#F0561D', yellow:'#F4B10B', purple:'#8A2C93',
             green:'#5FAA22', cyan:'#14B6EC', darkred:'#B0163C'};
const SZ = {'asterisk-open':19,'triangle-up-open':21,'hexagram-open':21,'square-open':16,
            'circle-open':21,'triangle-left-open':20,'diamond-open':18};

function sid(n){ return n===1 ? '' : String(n); }
function pts(x, y, name, symbol, color, n){
  return {type:'scatter', mode:'markers', x:x, y:y, name:name,
    xaxis:'x'+sid(n), yaxis:'y'+sid(n), legend:'legend'+sid(n), cliponaxis:false,
    marker:{symbol:symbol, size:SZ[symbol], color:color, line:{color:color, width:2}}};
}
function curve(x, y, name, color, n){
  return {type:'scatter', mode:'lines', x:x, y:y, name:name,
    xaxis:'x'+sid(n), yaxis:'y'+sid(n), legend:'legend'+sid(n),
    line:{color:color, width:2.6, shape:'spline', smoothing:0.8}};
}

const traces = [];
// (a) and (b)
[1,2].forEach(n => {
  traces.push(pts(angles, r2Weibull, 'Weibull', 'asterisk-open', COL.blue, n));
  traces.push(pts(angles, r2Lognormal, 'Lognormal', 'triangle-up-open', COL.orange, n));
  traces.push(pts(angles, r2Gamma, 'Gamma', 'hexagram-open', COL.yellow, n));
  traces.push(pts(angles, r2K, 'K', 'square-open', COL.purple, n));
  traces.push(pts(angles, r2G0, 'G0', 'circle-open', COL.green, n));
  traces.push(pts(angles, r2FMM, 'FMM', 'triangle-left-open', COL.cyan, n));
});
// (c)
traces.push(pts(angles, rmseWeibull, 'Weibull', 'asterisk-open', COL.blue, 3));
traces.push(pts(angles, rmseGamma, 'Gamma', 'hexagram-open', COL.orange, 3));
traces.push(pts(angles, rmseLognormal, 'Lognormal', 'triangle-up-open', COL.yellow, 3));
traces.push(pts(angles, rmseK, 'K', 'square-open', COL.purple, 3));
traces.push(pts(angles, rmseG0, 'G0', 'circle-open', COL.green, 3));
traces.push(pts(angles, rmseFMM, 'FMM', 'diamond-open', COL.cyan, 3));
// (d)
const dataTrace = pts(ampData, pdfData, 'Data', 'circle-open', COL.blue, 4);
dataTrace.marker.size = 20; dataTrace.marker.line.width = 2.6;
traces.push(dataTrace);
traces.push(curve(ampFit, fitWeibull, 'Weibull', COL.orange, 4));
traces.push(curve(ampFit, fitLognormal, 'Lognormal', COL.yellow, 4));
traces.push(curve(ampFit, fitGamma, 'Gamma', COL.purple, 4));
traces.push(curve(ampFit, fitK, 'K', COL.green, 4));
traces.push(curve(ampFit, fitG0, 'G0', COL.cyan, 4));
traces.push(curve(ampFit, fitFMM, 'FMM', COL.darkred, 4));
// (e) and (f)
[5,6].forEach(n => {
  traces.push(pts(angles, corrWeibull, 'Weibull', 'asterisk-open', COL.blue, n));
  traces.push(pts(angles, corrGamma, 'Gamma', 'hexagram-open', COL.orange, n));
  traces.push(pts(angles, corrLognormal, 'Lognormal', 'triangle-up-open', COL.yellow, n));
  traces.push(pts(angles, corrK, 'K', 'square-open', COL.purple, n));
  traces.push(pts(angles, corrG0, 'G0', 'circle-open', COL.green, n));
  traces.push(pts(angles, corrFMM, 'FMM', 'diamond-open', COL.cyan, n));
});

// ---------- geometry (paper fractions) ----------
const W = 2495, H = 3206;
const colL = [162/W, 1145/W], colR = [1468/W, 2453/W];
const rowT = [1-856/H, 1-89/H], rowM = [1-1911/H, 1-1141/H], rowB = [1-2966/H, 1-2196/H];

function axis(n, dir, domain, range, tv, tt, title, box, standoff){
  const other = (dir==='x' ? 'y' : 'x') + sid(n);
  return {domain:domain, range:range, anchor:other, tickmode:'array', tickvals:tv, ticktext:tt,
    showline:true, linecolor:AX, linewidth:2, mirror: box ? 'ticks' : false,
    ticks:'inside', ticklen:11, tickwidth:2, tickcolor:AX,
    showgrid:false, zeroline:false, fixedrange:true,
    tickfont:{family:FONT, size:28, color:AX},
    title:{text:title, font:{family:FONT, size:32, color:AX}, standoff:standoff}};
}
function leg(x, y, xa, ya, iw){
  return {x:x, y:y, xanchor:xa, yanchor:ya, bgcolor:'#ffffff', bordercolor:AX, borderwidth:2.5,
    font:{family:FONT, size:26, color:'#000'}, itemwidth:iw, tracegroupgap:0, traceorder:'normal'};
}
const R2T = 'R<sup>2</sup><sub>adj</sub>';
const layout = {
  width:W, height:H, margin:{l:0,r:0,t:0,b:0}, paper_bgcolor:'#fff', plot_bgcolor:'#fff',
  showlegend:true, font:{family:FONT, color:AX},
  xaxis:  axis(1,'x',colL,[0,400],angleTicks,angleTickText,'Aperture angle',false,20),
  yaxis:  axis(1,'y',rowT,[0.82,1],r2aTicks,r2aTickText,R2T,false,14),
  xaxis2: axis(2,'x',colR,[0,400],angleTicks,angleTickText,'Aperture angle',false,20),
  yaxis2: axis(2,'y',rowT,[0.98414,1],r2bTicks,r2bTickText,R2T,false,14),
  xaxis3: axis(3,'x',colL,[0,400],angleTicks,angleTickText,'Aperture angle',true,20),
  yaxis3: axis(3,'y',rowM,[0,0.14],rmseTicks,rmseTickText,'RMSE',true,14),
  xaxis4: axis(4,'x',colR,[0,5],ampTicks,ampTickText,'Normalized Amplitude',false,20),
  yaxis4: axis(4,'y',rowM,[0,0.9],pdfTicks,pdfTickText,'PDF',false,12),
  xaxis5: axis(5,'x',colL,[0,400],angleTicks,angleTickText,'Aperture angle',true,20),
  yaxis5: axis(5,'y',rowB,[0.965,1],corrETicks,corrETickText,'Correlation coefficient',true,10),
  xaxis6: axis(6,'x',colR,[0,400],angleTicks,angleTickText,'Aperture angle',true,20),
  yaxis6: axis(6,'y',rowB,[0.98905,1],corrFTicks,corrFTickText,'Correlation coefficient',true,12),
  legend:  leg(1146/W, rowT[0], 'right','bottom',95),
  legend2: leg(2457/W, rowT[0], 'right','bottom',95),
  legend3: leg(1120/W, 1-1165/H, 'right','top',95),
  legend4: leg(2430/W, 1-1165/H, 'right','top',112),
  legend5: leg(1146/W, rowB[0], 'right','bottom',95),
  legend6: leg(2453/W, rowB[0], 'right','bottom',95),
  annotations: []
};
const TT = {family:FONT, size:32, color:'#000'};
const titles = [
  ['Comparison of '+R2T+' at various aperture angles', 654, 50],
  ['Comparison of '+R2T+' at various aperture angles', 1960, 50],
  ['Comparison of RMSE at various aperture angles', 654, 1118],
  ['Result for an aperture angle at 354°', 1960, 1118],
  ['Comparison of correlation coefficient at various aperture angles', 654, 2174],
  ['Comparison of correlation coefficient at various aperture angles', 1960, 2174]
];
titles.forEach(t => layout.annotations.push({text:t[0], x:t[1]/W, y:1-t[2]/H, xref:'paper', yref:'paper',
  xanchor:'center', yanchor:'middle', showarrow:false, font:TT}));
const labels = [['(a)',631,1021],['(b)',1937,1021],['(c)',631,2080],['(d)',1937,2080],['(e)',631,3139],['(f)',1937,3139]];
labels.forEach(l => layout.annotations.push({text:'<b>'+l[0]+'</b>', x:l[1]/W, y:1-l[2]/H, xref:'paper', yref:'paper',
  xanchor:'center', yanchor:'middle', showarrow:false,
  font:{family:"'Liberation Serif', 'Times New Roman', serif", size:64, color:'#000'}}));

Plotly.newPlot('chart', traces, layout, {staticPlot:true, displayModeBar:false});
</script></body></html>
